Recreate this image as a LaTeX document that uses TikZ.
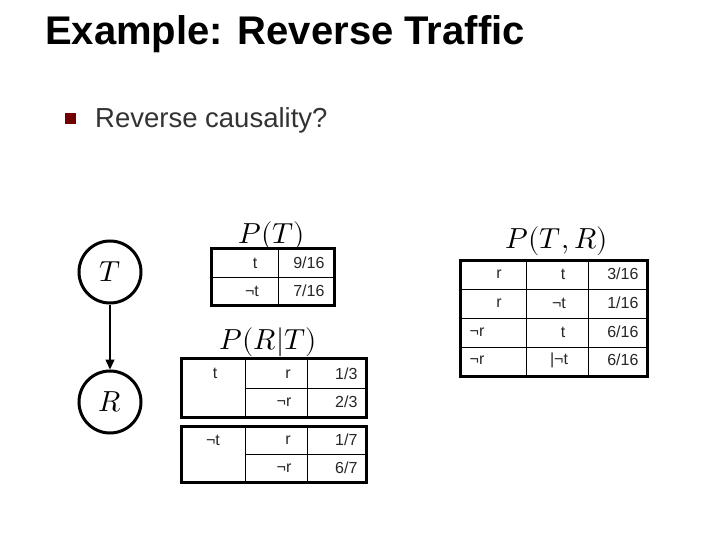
\documentclass[tikz,border=0pt]{standalone}
\usepackage{fontspec}
\setmainfont{Liberation Sans}
\usepackage{unicode-math}
\setmathfont{Latin Modern Math}
\usetikzlibrary{arrows.meta}
\begin{document}
\begin{tikzpicture}[x=1pt,y=-1pt,
  outer/.style={line width=3pt,black},
  inner/.style={line width=0.6pt,black},
  cell/.style={font=\fontsize{16}{18}\selectfont,text=black!85},
  lab/.style={font=\fontsize{29}{32}\selectfont},
  var/.style={circle,draw,line width=3pt,minimum size=62pt,inner sep=0pt,font=\fontsize{29}{32}\selectfont}]
\useasboundingbox[fill=white] (0,0) rectangle (720,540);
\node[anchor=base west,inner sep=0pt,font=\bfseries\fontsize{40}{46}\selectfont] (title) at (45,45) {Example: Reverse Traffic};
\fill[red!45!black] (65,113) rectangle (76,124);
\node[anchor=base west,inner sep=0pt,font=\fontsize{27.5}{32}\selectfont,text=black!80] (bul) at (95,128) {Reverse causality?};
% BN
\node[var] (T) at (110,272) {$T$};
\node[var] (R) at (110,402) {$R$};
\draw[line width=1.5pt,-{Triangle[length=10pt,width=9pt]}] (T) -- (R);
% P(T)
\node[lab] (pt) at (272,236) {$P(T)$};
\draw[inner] (278,248) -- (278,305) (211,277) -- (334,277);
\draw[outer] (211,248) rectangle (334,305);
\node[cell] (a1) at (255,263) {t};
\node[cell,anchor=east] (a2) at (328,263) {9/16};
\node[cell] (a3) at (252,291) {¬t};
\node[cell,anchor=east] (a4) at (328,291) {7/16};
% P(R|T)
\node[lab] (prt) at (268,342) {$P(R|T)$};
\draw[inner] (245,358) -- (245,417) (307,358) -- (307,417) (245,388) -- (366,388);
\draw[outer] (181,358) rectangle (366,417);
\node[cell] (b1) at (215,373) {t};
\node[cell] (b2) at (288,374) {r};
\node[cell,anchor=east] (b3) at (361,374) {1/3};
\node[cell] (b4) at (284,402) {¬r};
\node[cell,anchor=east] (b5) at (361,402) {2/3};
\draw[inner] (245,426) -- (245,482) (307,426) -- (307,482) (245,454) -- (366,454);
\draw[outer] (181,426) rectangle (366,482);
\node[cell] (c1) at (213,440) {¬t};
\node[cell] (c2) at (288,440) {r};
\node[cell,anchor=east] (c3) at (361,440) {1/7};
\node[cell] (c4) at (284,468) {¬r};
\node[cell,anchor=east] (c5) at (361,468) {6/7};
% P(T,R)
\node[lab] (ptr) at (557,241) {$P(T,R)$};
\draw[inner] (526,260) -- (526,376) (588,260) -- (588,376)
  (460,289) -- (647,289) (460,318) -- (647,318) (460,347) -- (647,347);
\draw[outer] (460,260) rectangle (647,376);
\node[cell] (d1) at (499,274) {r};
\node[cell] (d2) at (563,274) {t};
\node[cell,anchor=east] (d3) at (642,274) {3/16};
\node[cell] (d4) at (499,303) {r};
\node[cell] (d5) at (559,303) {¬t};
\node[cell,anchor=east] (d6) at (642,303) {1/16};
\node[cell] (d7) at (477,332) {¬r};
\node[cell] (d8) at (563,332) {t};
\node[cell,anchor=east] (d9) at (642,332) {6/16};
\node[cell] (d10) at (477,360) {¬r};
\node[cell] (d11) at (559,360) {|¬t};
\node[cell,anchor=east] (d12) at (642,360) {6/16};
\end{tikzpicture}
\end{document}
